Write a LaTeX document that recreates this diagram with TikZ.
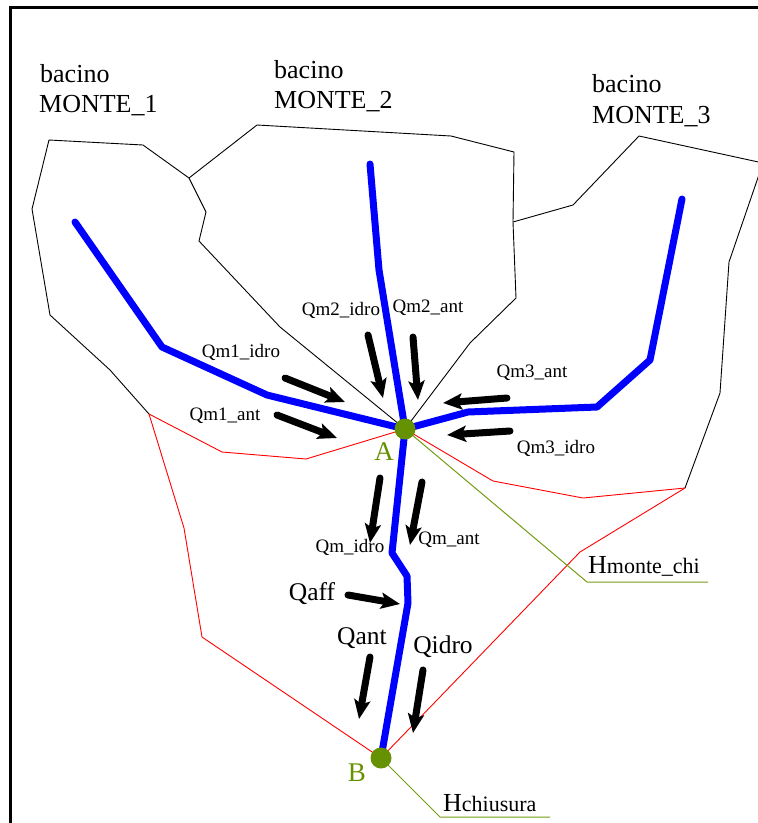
\documentclass[tikz,border=0pt]{standalone}
\usepackage{fontspec}
\setmainfont{Liberation Serif}
\usetikzlibrary{arrows.meta}
\definecolor{riverblue}{RGB}{0,0,255}
\definecolor{olivegreen}{RGB}{102,145,0}
\definecolor{glinecol}{RGB}{115,155,20}
\definecolor{redline}{RGB}{255,0,0}
\begin{document}
\begin{tikzpicture}[x=1pt,y=-1pt,
  frame/.style={draw=black,line width=3pt},
  basin/.style={draw=black,line width=0.9pt,line join=miter},
  redb/.style={draw=redline,line width=0.9pt,line join=miter},
  gline/.style={draw=glinecol,line width=1pt},
  river/.style={draw=riverblue,line width=7pt,line cap=round,line join=round},
  flow/.style={draw=black,line width=7pt,line cap=round,-{Stealth[length=19pt,width=16pt,inset=4pt]}},
  big/.style={font=\fontsize{26}{30}\selectfont,inner sep=0pt,anchor=base west},
  qsmall/.style={font=\fontsize{19}{22}\selectfont,inner sep=0pt},
  qbig/.style={font=\fontsize{25.5}{28}\selectfont,inner sep=0pt},
  ptlabel/.style={font=\fontsize{27}{30}\selectfont,text=olivegreen,inner sep=0pt},
  hlabel/.style={font=\fontsize{22}{26}\selectfont,inner sep=0pt,anchor=base west},
  dot/.style={circle,fill=olivegreen,minimum size=21pt,inner sep=0pt}
]
\clip (0,0) rectangle (758,823);
% frame
\draw[frame] (10.5,840) -- (10.5,7.5) -- (780,7.5);
% key points
\coordinate (A) at (405,429);
\coordinate (B) at (381,758);
% basin MONTE_1
\draw[basin] (149,414) -- (110,370) -- (50,315) -- (32,209) -- (49,140) -- (143,145) -- (189,178)
  -- (206,212) -- (199,241) -- (280,327) -- (A);
% basin MONTE_2
\draw[basin] (189,178) -- (257,125) -- (451,136) -- (514,152) -- (513,222) -- (516,298) -- (470,343) -- (A);
% basin MONTE_3
\draw[basin] (513,222) -- (573,205) -- (639,136) -- (763,163) -- (729,262) -- (720,393) -- (685,488);
% red closing basin
\draw[redb] (149,414) -- (222,452) -- (306,459) -- (A);
\draw[redb] (A) -- (493,481) -- (583,498) -- (685,488);
\draw[redb] (149,414) -- (184,528) -- (202,637) -- (B);
\draw[redb] (685,488) -- (580,552) -- (B);
% green connectors
\coordinate (hm1) at (587,582);
\coordinate (hm2) at (708,582);
\coordinate (hc1) at (440,817);
\coordinate (hc2) at (550,817);
\draw[gline] (A) -- (hm1) -- (hm2);
\draw[gline] (B) -- (hc1) -- (hc2);
% rivers
\draw[river] (370,164) -- (379,270) -- (A) -- (392,553) -- (407,576) -- (408,603) -- (B);
\draw[river] (75,222) -- (162,347) -- (267,395) -- (A);
\draw[river] (682,199) -- (650,360) -- (597,407) -- (468,412) -- (A);
% flow arrows
\coordinate (f1a) at (285,378); \coordinate (f1b) at (345,402);
\coordinate (f2a) at (277,415); \coordinate (f2b) at (337,438);
\coordinate (f3a) at (368,335); \coordinate (f3b) at (383,398);
\coordinate (f4a) at (413,337); \coordinate (f4b) at (418,400);
\coordinate (f5a) at (507,398); \coordinate (f5b) at (443,403);
\coordinate (f6a) at (510,431); \coordinate (f6b) at (447,435);
\coordinate (f7a) at (380,478); \coordinate (f7b) at (370,543);
\coordinate (f8a) at (422,482); \coordinate (f8b) at (410,545);
\coordinate (f9a) at (348,595); \coordinate (f9b) at (400,604);
\coordinate (f10a) at (370,657); \coordinate (f10b) at (359,719);
\coordinate (f11a) at (423,670); \coordinate (f11b) at (413,733);
\foreach \i in {1,...,11} {\draw[flow] (f\i a) -- (f\i b);}
% dots
\node[dot] (dotA) at (A) {};
\node[dot] (dotB) at (B) {};
% labels
\node[big] (b1) at (40,82) {bacino};
\node[big] (m1) at (39,112) {MONTE\_1};
\node[big] (b2) at (274,78) {bacino};
\node[big] (m2) at (274,108) {MONTE\_2};
\node[big] (b3) at (592,92) {bacino};
\node[big] (m3) at (592,123) {MONTE\_3};
\node[qsmall] (lq1) at (241,352) {Qm1\_idro};
\node[qsmall] (lq2) at (225,416) {Qm1\_ant};
\node[qsmall] (lq3) at (341,310) {Qm2\_idro};
\node[qsmall] (lq4) at (428,308) {Qm2\_ant};
\node[qsmall] (lq5) at (532,373) {Qm3\_ant};
\node[qsmall] (lq6) at (556,448) {Qm3\_idro};
\node[qsmall] (lq7) at (350,547) {Qm\_idro};
\node[qsmall] (lq8) at (449,540) {Qm\_ant};
\node[qbig] (lq9) at (312,594) {Qaff};
\node[qbig] (lq10) at (362,638) {Qant};
\node[qbig] (lq11) at (443,647) {Qidro};
\node[ptlabel] (lA) at (384,452) {A};
\node[ptlabel] (lB) at (357,773) {B};
\node[hlabel] (lhm) at (588,573) {{\fontsize{26}{30}\selectfont H}monte\_chi};
\node[hlabel] (lhc) at (443,811) {{\fontsize{26}{30}\selectfont H}chiusura};
\end{tikzpicture}
\end{document}
